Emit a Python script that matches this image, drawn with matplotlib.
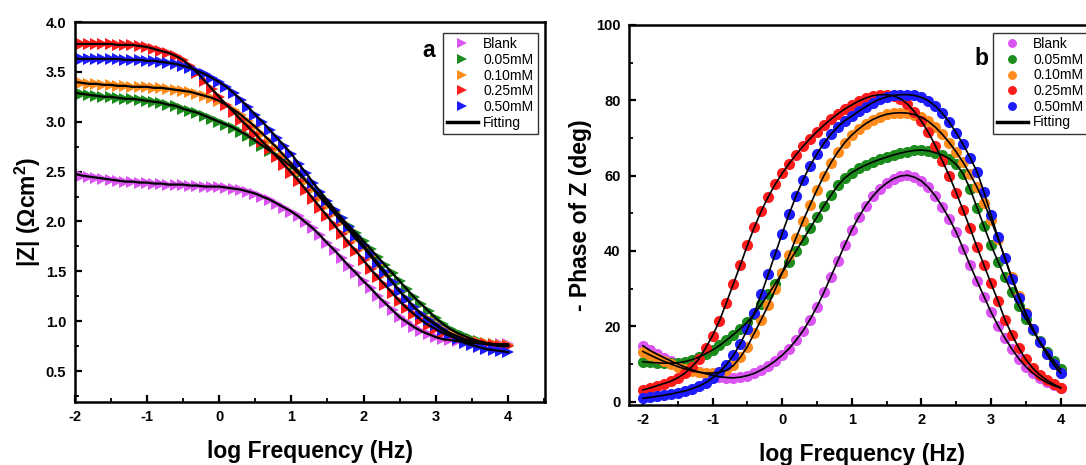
import numpy as np
import matplotlib
matplotlib.use('Agg')
import matplotlib.pyplot as plt
from matplotlib.lines import Line2D
from matplotlib.ticker import MultipleLocator

plt.rcParams['font.family'] = ['Liberation Sans', 'DejaVu Sans']
plt.rcParams['axes.unicode_minus'] = False
plt.rcParams['mathtext.fontset'] = 'custom'
plt.rcParams['mathtext.rm'] = 'Liberation Sans:bold'
plt.rcParams['mathtext.it'] = 'Liberation Sans:bold'
plt.rcParams['mathtext.bf'] = 'Liberation Sans:bold'

# log frequency (Hz), 10 points per decade, 10 mHz .. 10 kHz
log_f = np.linspace(-2, 4, 61)

labels = ['Blank', '0.05mM', '0.10mM', '0.25mM', '0.50mM']
colors = ['#DA55F2', '#1C8C1C', '#FF8C1C', '#FF1C1C', '#1C1CFF']

# (a) Bode modulus |Z|
z_blank = [2.48, 2.46, 2.45, 2.44, 2.43, 2.42, 2.41, 2.40, 2.40, 2.39,
           2.39, 2.38, 2.38, 2.37, 2.37, 2.37, 2.36, 2.36, 2.35, 2.35,
           2.35, 2.34, 2.33, 2.32, 2.30, 2.28, 2.25, 2.22, 2.18, 2.14,
           2.10, 2.05, 1.99, 1.93, 1.86, 1.78, 1.71, 1.63, 1.55, 1.48,
           1.40, 1.33, 1.25, 1.18, 1.11, 1.04, 0.99, 0.94, 0.90, 0.87,
           0.84, 0.82, 0.81, 0.80, 0.79, 0.78, 0.78, 0.77, 0.77, 0.77,
           0.77]
z_005 = [3.29, 3.28, 3.27, 3.26, 3.25, 3.25, 3.24, 3.23, 3.23, 3.22,
         3.21, 3.20, 3.19, 3.17, 3.16, 3.13, 3.11, 3.09, 3.06, 3.03,
         3.00, 2.97, 2.94, 2.90, 2.86, 2.81, 2.76, 2.71, 2.66, 2.61,
         2.55, 2.48, 2.41, 2.33, 2.26, 2.18, 2.10, 2.03, 1.95, 1.88,
         1.80, 1.72, 1.64, 1.56, 1.48, 1.40, 1.32, 1.24, 1.17, 1.10,
         1.03, 0.97, 0.92, 0.88, 0.85, 0.82, 0.80, 0.78, 0.77, 0.76,
         0.75]
z_010 = [3.40, 3.39, 3.38, 3.38, 3.37, 3.37, 3.36, 3.36, 3.35, 3.35,
         3.35, 3.34, 3.34, 3.33, 3.32, 3.31, 3.30, 3.28, 3.26, 3.24,
         3.21, 3.17, 3.12, 3.07, 3.01, 2.95, 2.88, 2.81, 2.74, 2.66,
         2.58, 2.50, 2.41, 2.33, 2.24, 2.16, 2.08, 1.99, 1.91, 1.82,
         1.74, 1.65, 1.56, 1.47, 1.39, 1.30, 1.22, 1.14, 1.07, 1.02,
         0.97, 0.92, 0.88, 0.85, 0.82, 0.80, 0.79, 0.78, 0.77, 0.76,
         0.76]
z_025 = [3.78, 3.78, 3.78, 3.78, 3.78, 3.78, 3.77, 3.77, 3.77, 3.76,
         3.75, 3.73, 3.71, 3.69, 3.66, 3.62, 3.56, 3.49, 3.41, 3.33,
         3.25, 3.17, 3.10, 3.02, 2.95, 2.88, 2.80, 2.73, 2.65, 2.57,
         2.49, 2.41, 2.32, 2.23, 2.14, 2.05, 1.96, 1.87, 1.78, 1.70,
         1.61, 1.52, 1.44, 1.36, 1.28, 1.20, 1.13, 1.07, 1.01, 0.96,
         0.92, 0.88, 0.85, 0.82, 0.80, 0.79, 0.78, 0.77, 0.76, 0.75,
         0.75]
z_050 = [3.63, 3.63, 3.63, 3.63, 3.63, 3.63, 3.63, 3.62, 3.62, 3.62,
         3.61, 3.61, 3.60, 3.59, 3.58, 3.56, 3.54, 3.51, 3.48, 3.44,
         3.40, 3.35, 3.29, 3.22, 3.15, 3.07, 3.00, 2.92, 2.84, 2.76,
         2.68, 2.58, 2.49, 2.39, 2.30, 2.21, 2.12, 2.03, 1.94, 1.85,
         1.76, 1.67, 1.58, 1.49, 1.39, 1.30, 1.22, 1.14, 1.07, 1.01,
         0.96, 0.91, 0.86, 0.82, 0.78, 0.76, 0.74, 0.72, 0.71, 0.70,
         0.69]

# (b) Bode phase, -phase in degrees
ph_blank = [14.8, 13.6, 12.6, 11.7, 10.8, 10.0, 9.2, 8.5, 7.9, 7.4,
            7.0, 6.6, 6.4, 6.3, 6.5, 6.9, 7.5, 8.4, 9.5, 10.8,
            12.3, 14.1, 16.3, 18.8, 21.8, 25.2, 29.0, 33.2, 37.4, 41.6,
            45.6, 49.0, 52.0, 54.5, 56.5, 58.0, 59.2, 59.9, 60.1, 59.6,
            58.6, 56.9, 54.6, 51.8, 48.6, 45.0, 40.6, 36.2, 32.0, 27.9,
            23.8, 20.2, 16.9, 14.0, 11.4, 9.3, 7.6, 6.2, 5.1, 4.3,
            3.6]
ph_005 = [10.6, 10.4, 10.3, 10.2, 10.2, 10.3, 10.6, 11.1, 11.8, 12.7,
          13.7, 14.9, 16.3, 17.8, 19.4, 21.1, 23.3, 25.8, 28.5, 31.3,
          34.2, 37.1, 40.0, 43.0, 46.0, 49.0, 52.0, 54.8, 57.4, 59.4,
          60.8, 61.9, 62.8, 63.6, 64.3, 64.9, 65.5, 66.0, 66.4, 66.7,
          66.8, 66.6, 66.1, 65.5, 64.5, 63.0, 60.5, 56.5, 51.5, 46.5,
          41.6, 37.2, 33.0, 29.0, 25.4, 22.0, 18.9, 16.0, 13.3, 10.8,
          8.6]
ph_010 = [13.3, 12.4, 11.5, 10.7, 10.0, 9.3, 8.7, 8.2, 7.8, 7.6,
          7.6, 7.8, 8.3, 9.6, 11.8, 14.6, 18.2, 21.8, 25.6, 29.8,
          34.2, 38.8, 43.5, 48.0, 52.2, 56.2, 60.0, 63.4, 66.3, 68.8,
          70.8, 72.4, 73.8, 74.9, 75.7, 76.3, 76.6, 76.7, 76.6, 76.2,
          75.5, 74.4, 72.9, 71.0, 68.8, 66.3, 63.5, 60.4, 56.9, 52.8,
          48.2, 43.3, 38.2, 33.0, 28.1, 23.5, 19.4, 15.8, 12.6, 9.9,
          7.6]
ph_025 = [3.1, 3.6, 4.2, 4.8, 5.4, 6.3, 7.5, 9.2, 11.2, 14.2,
          17.5, 21.5, 26.3, 31.3, 36.3, 41.5, 46.3, 50.6, 54.4, 57.7,
          60.6, 63.2, 65.6, 67.8, 69.8, 71.7, 73.4, 75.0, 76.4, 77.7,
          78.8, 79.8, 80.6, 81.2, 81.5, 81.5, 81.2, 80.4, 79.0, 77.0,
          74.5, 71.5, 68.0, 64.0, 60.0, 55.5, 50.8, 46.0, 41.0, 36.2,
          31.4, 26.8, 21.8, 17.8, 14.2, 11.2, 8.9, 7.1, 5.7, 4.6,
          3.7]
ph_050 = [0.9, 1.1, 1.4, 1.7, 2.0, 2.4, 2.8, 3.4, 4.1, 5.0,
          6.3, 7.8, 9.8, 12.3, 15.4, 19.2, 23.6, 28.5, 33.8, 39.2,
          44.6, 49.8, 54.6, 58.9, 62.6, 65.8, 68.6, 71.0, 73.0, 74.6,
          75.8, 77.1, 78.3, 79.4, 80.3, 80.9, 81.3, 81.5, 81.5, 81.3,
          80.8, 79.9, 78.5, 76.6, 74.2, 71.4, 68.3, 64.8, 61.0, 55.6,
          49.6, 43.6, 38.0, 32.6, 27.6, 23.2, 19.4, 15.8, 12.7, 9.9,
          7.6]

z_all = [z_blank, z_005, z_010, z_025, z_050]
ph_all = [ph_blank, ph_005, ph_010, ph_025, ph_050]

W, H = 1086, 465
fig = plt.figure(figsize=(W / 100, H / 100), dpi=100)
ax_a = fig.add_axes([74.5 / W, 63 / H, 470.5 / W, 380 / H])
ax_b = fig.add_axes([629 / W, 60 / H, 466.4 / W, 380 / H])


def style_axes(ax):
    for sp in ax.spines.values():
        sp.set_linewidth(1.8)
    ax.tick_params(which='both', direction='in', top=False, right=False)
    ax.tick_params(which='major', length=5, width=1.6, pad=6)
    ax.tick_params(which='minor', length=3, width=1.3)
    ax.xaxis.set_minor_locator(MultipleLocator(0.5))


# panel a
for z, c, lab in zip(z_all, colors, labels):
    ax_a.plot(log_f, z, linestyle='none', marker='>', ms=9, mew=0,
              color=c, label=lab)
for z in z_all:
    ax_a.plot(log_f, z, color='black', lw=1.6)
ax_a.set_xlim(-2, 4.51)
ax_a.set_ylim(0.19, 4.0)
style_axes(ax_a)
xt = [-2, -1, 0, 1, 2, 3, 4]
ax_a.set_xticks(xt, [str(v) for v in xt], fontweight='bold', fontsize=10.5)
yt = [0.5, 1.0, 1.5, 2.0, 2.5, 3.0, 3.5, 4.0]
ax_a.set_yticks(yt, ['%.1f' % v for v in yt], fontweight='bold', fontsize=10.5)
ax_a.yaxis.set_minor_locator(MultipleLocator(0.25))
ax_a.set_xlabel('log Frequency (Hz)', fontsize=16.5, fontweight='bold')
ax_a.set_ylabel('|Z| (Ωcm$^{2}$)', fontsize=16.5, fontweight='bold')
ax_a.xaxis.set_label_coords(0.5, -0.1)
ax_a.yaxis.set_label_coords(-0.066, 0.5)
ax_a.text(0.752, 0.908, 'a', transform=ax_a.transAxes, fontsize=16.5,
          fontweight='bold', ha='center', va='baseline')

# panel b
for ph, c, lab in zip(ph_all, colors, labels):
    ax_b.plot(log_f, ph, linestyle='none', marker='o', ms=8, mew=0,
              color=c, label=lab)
for ph in ph_all:
    ax_b.plot(log_f, ph, color='black', lw=1.2)
ax_b.set_xlim(-2.2, 4.5)
ax_b.set_ylim(-0.9, 100)
style_axes(ax_b)
ax_b.set_xticks(xt, [str(v) for v in xt], fontweight='bold', fontsize=10.5)
yt_b = [0, 20, 40, 60, 80, 100]
ax_b.set_yticks(yt_b, [str(v) for v in yt_b], fontweight='bold', fontsize=10.5)
ax_b.yaxis.set_minor_locator(MultipleLocator(10))
ax_b.set_xlabel('log Frequency (Hz)', fontsize=16.5, fontweight='bold')
ax_b.set_ylabel('- Phase of Z (deg)', fontsize=16.5, fontweight='bold')
ax_b.xaxis.set_label_coords(0.5, -0.1)
ax_b.yaxis.set_label_coords(-0.08, 0.5)
ax_b.text(0.755, 0.895, 'b', transform=ax_b.transAxes, fontsize=16.5,
          fontweight='bold', ha='center', va='baseline')

# legends
for ax, anchor in [(ax_a, (0.783, 0.971)), (ax_b, (0.780, 0.979))]:
    handles, labs = ax.get_legend_handles_labels()
    handles = handles[:5] + [Line2D([], [], color='black', lw=2.5)]
    labs = labs[:5] + ['Fitting']
    leg = ax.legend(handles, labs, loc='upper left', bbox_to_anchor=anchor,
                    borderaxespad=0, fontsize=10, labelspacing=0.12,
                    handlelength=2.2, handletextpad=0.4, borderpad=0.3,
                    markerscale=0.8, fancybox=False, framealpha=1,
                    edgecolor='#333333')
    leg.get_frame().set_linewidth(1.0)

fig.savefig('out.png', dpi=100)
